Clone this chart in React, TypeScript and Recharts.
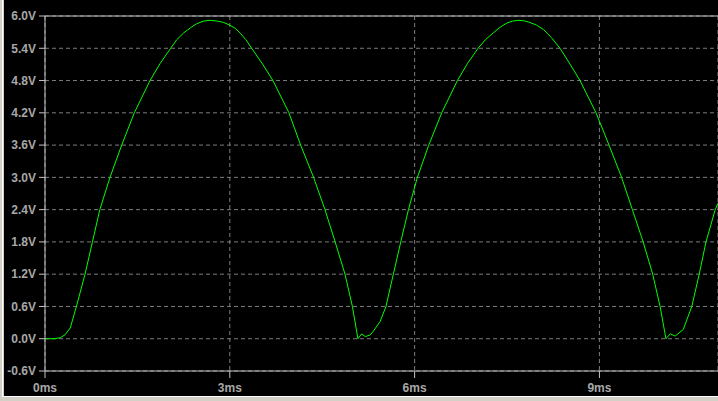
import { LineChart, Line, XAxis, YAxis, CartesianGrid, ReferenceLine } from "recharts";

// time (ms) and voltage (V)
const TIME_MS = [
  0, 0.16, 0.25, 0.325, 0.41, 0.51, 0.65, 0.77, 0.89, 1.055, 1.245, 1.45, 1.705, 1.87, 2.04, 2.14, 2.245,
  2.36, 2.46, 2.57, 2.68, 2.8, 2.9, 3.0, 3.09, 3.17, 3.26, 3.355, 3.53, 3.7, 3.96, 4.15, 4.36, 4.545,
  4.71, 4.87, 4.99, 5.08, 5.14, 5.2, 5.28, 5.33, 5.44,
  5.535, 5.655, 5.775, 5.9, 6.045, 6.23, 6.44, 6.695, 6.86, 7.03, 7.15, 7.28, 7.4, 7.5, 7.59, 7.68,
  7.78, 7.87, 7.98, 8.09, 8.22, 8.36, 8.52, 8.685, 8.945, 9.156, 9.36, 9.535, 9.71, 9.865, 9.985,
  10.08, 10.15, 10.23, 10.36, 10.5, 10.62, 10.73, 10.88, 10.925,
];
const VOLTS = [
  0, 0, 0.02, 0.074, 0.2, 0.6, 1.2, 1.8, 2.4, 3.0, 3.6, 4.2, 4.8, 5.12, 5.4, 5.56, 5.68,
  5.78, 5.855, 5.905, 5.92, 5.905, 5.88, 5.83, 5.77, 5.68, 5.56, 5.4, 5.11, 4.8, 4.2, 3.6, 3.0, 2.4,
  1.8, 1.2, 0.6, 0.0, 0.09, 0.04, 0.07, 0.14, 0.32,
  0.6, 1.2, 1.8, 2.4, 3.0, 3.6, 4.2, 4.8, 5.12, 5.4, 5.56, 5.69, 5.8, 5.87, 5.905, 5.92,
  5.91, 5.88, 5.83, 5.75, 5.6, 5.4, 5.11, 4.8, 4.2, 3.6, 3.0, 2.4, 1.8, 1.2, 0.6,
  0.0, 0.09, 0.05, 0.17, 0.6, 1.2, 1.8, 2.4, 2.52,
];

const X_TICKS = [0, 3, 6, 9];
const Y_TICKS = [-0.6, 0, 0.6, 1.2, 1.8, 2.4, 3.0, 3.6, 4.2, 4.8, 5.4, 6.0];

const data = TIME_MS.map((t, i) => ({ t, v: VOLTS[i] }));

const AXIS = "#c4c4c4";
const LABEL = "#a8a8a8";
const tickStyle = { fill: LABEL, fontSize: 12, fontWeight: 700, fontFamily: "'Liberation Sans', Arial, sans-serif" };

export default function App() {
  return (
    <div style={{ position: "absolute", left: 0, top: 0, width: 718, height: 401, background: "#d4d0c8" }}>
      <div style={{ position: "absolute", left: 2, top: 0, width: 1, height: 397, background: "#ffffff" }} />
      <div style={{ position: "absolute", left: 4, top: 0, width: 714, height: 396, background: "#000" }} />
      <div style={{ position: "absolute", left: 3, top: 396, width: 715, height: 1, background: "#ffffff" }} />
      <div style={{ position: "absolute", left: 0, top: 0 }}>
        <LineChart width={718} height={401} data={data} margin={{ top: 16, right: 0, bottom: 0, left: 0 }}>
          <CartesianGrid stroke="#7c7c7c" strokeDasharray="4 3" />
          <XAxis
            dataKey="t"
            type="number"
            domain={[0, 10.925]}
            ticks={X_TICKS}
            tickFormatter={(v) => `${v}ms`}
            height={30}
            stroke={AXIS}
            tickSize={7}
            tickMargin={5}
            tick={tickStyle}
            interval={0}
            allowDataOverflow
          />
          <YAxis
            type="number"
            domain={[-0.6, 6.0]}
            ticks={Y_TICKS}
            tickFormatter={(v) => `${Number(v).toFixed(1)}V`}
            width={45}
            stroke={AXIS}
            tickSize={6}
            tickMargin={3}
            tick={tickStyle}
            interval={0}
            allowDataOverflow
          />
          <ReferenceLine y={6.0} stroke={AXIS} />
          <Line
            type="linear"
            dataKey="v"
            stroke="#00ff00"
            strokeWidth={1}
            dot={false}
            isAnimationActive={false}
          />
        </LineChart>
      </div>
    </div>
  );
}
